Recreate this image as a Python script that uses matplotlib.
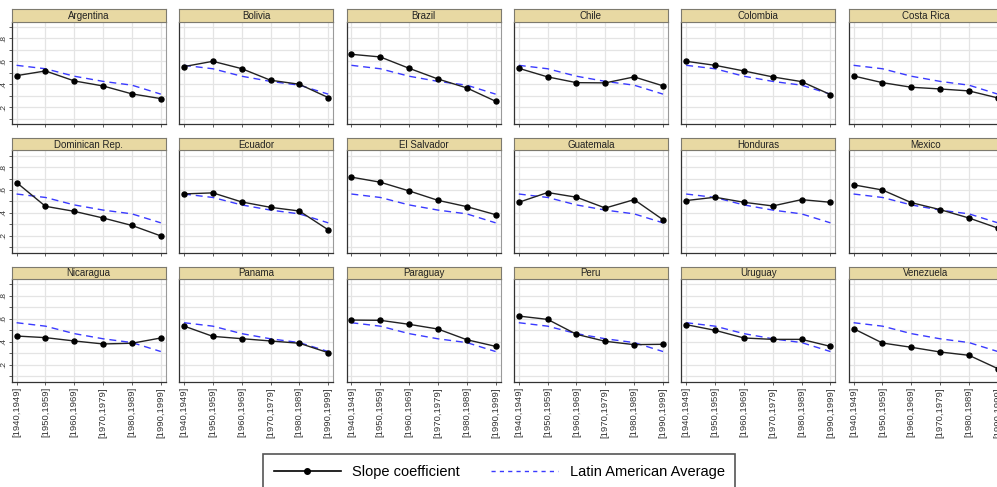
import matplotlib
matplotlib.use('Agg')
import matplotlib.pyplot as plt
from matplotlib.lines import Line2D
import numpy as np

plt.rcParams['font.family'] = ['Liberation Sans', 'DejaVu Sans']

periods = ['[1940,1949]', '[1950,1959]', '[1960,1969]', '[1970,1979]', '[1980,1989]', '[1990,1999]']
latin_avg = [0.565, 0.535, 0.470, 0.425, 0.392, 0.314]

argentina = [0.475, 0.516, 0.429, 0.385, 0.316, 0.275]
bolivia = [0.554, 0.600, 0.536, 0.435, 0.400, 0.284]
brazil = [0.661, 0.638, 0.539, 0.446, 0.368, 0.252]
chile = [0.539, 0.464, 0.414, 0.412, 0.464, 0.386]
colombia = [0.600, 0.565, 0.516, 0.464, 0.423, 0.310]
costa_rica = [0.472, 0.414, 0.374, 0.359, 0.342, 0.281]
dominican_rep = [0.665, 0.458, 0.414, 0.356, 0.291, 0.200]
ecuador = [0.566, 0.575, 0.496, 0.449, 0.417, 0.253]
el_salvador = [0.712, 0.668, 0.592, 0.510, 0.455, 0.385]
guatemala = [0.493, 0.578, 0.537, 0.443, 0.516, 0.341]
honduras = [0.508, 0.537, 0.493, 0.461, 0.516, 0.493]
mexico = [0.645, 0.600, 0.490, 0.429, 0.356, 0.268]
nicaragua = [0.449, 0.435, 0.406, 0.380, 0.386, 0.432]
panama = [0.536, 0.446, 0.426, 0.406, 0.386, 0.304]
paraguay = [0.588, 0.586, 0.551, 0.510, 0.417, 0.359]
peru = [0.623, 0.594, 0.464, 0.403, 0.374, 0.377]
uruguay = [0.548, 0.499, 0.432, 0.420, 0.420, 0.359]
venezuela = [0.513, 0.388, 0.351, 0.310, 0.281, 0.165]

countries = ['Argentina', 'Bolivia', 'Brazil', 'Chile', 'Colombia', 'Costa Rica',
             'Dominican Rep.', 'Ecuador', 'El Salvador', 'Guatemala', 'Honduras', 'Mexico',
             'Nicaragua', 'Panama', 'Paraguay', 'Peru', 'Uruguay', 'Venezuela']
series = [argentina, bolivia, brazil, chile, colombia, costa_rica,
          dominican_rep, ecuador, el_salvador, guatemala, honduras, mexico,
          nicaragua, panama, paraguay, peru, uruguay, venezuela]

W, H = 997, 487
fig = plt.figure(figsize=(W / 100, H / 100), dpi=100)

avg_color = '#3a3aff'
x = np.arange(len(periods))

for i, (name, vals) in enumerate(zip(countries, series)):
    r, c = divmod(i, 6)
    left = 11.7 + 167.4 * c
    top = 21.7 + 128.7 * r
    w, h = 154, 102.5
    ax = fig.add_axes([left / W, 1 - (top + h) / H, w / W, h / H])
    ax.plot(x, latin_avg, color=avg_color, lw=1.0, dashes=(5, 3.5), zorder=3)
    ax.plot(x, vals, color='#222222', lw=1.0, marker='o', ms=3.6,
            mfc='black', mec='black', zorder=4)
    ax.set_xlim(-0.17, 5.17)
    ax.set_ylim(0.052, 0.945)
    ax.set_xticks(x)
    ax.set_yticks([0.2, 0.4, 0.6, 0.8])
    ax.set_yticks([0.1, 0.3, 0.5, 0.7, 0.9], minor=True)
    ax.grid(True, which='both', axis='y', color='#e4e4e4', lw=0.9)
    ax.grid(True, which='major', axis='x', color='#e4e4e4', lw=0.9)
    ax.set_axisbelow(True)
    for s in ['top', 'right']:
        ax.spines[s].set_color('#9a9a9a')
        ax.spines[s].set_linewidth(0.8)
    for s in ['left', 'bottom']:
        ax.spines[s].set_color('#333333')
        ax.spines[s].set_linewidth(0.9)
    ax.tick_params(axis='both', which='both', length=2, width=0.6, color='#444444')
    if c == 0:
        ax.set_yticklabels(['.2', '.4', '.6', '.8'], rotation=90, va='center',
                           fontsize=6, color='#333333')
        ax.tick_params(axis='y', pad=1)
    else:
        ax.tick_params(axis='y', which='both', left=False, labelleft=False)
    if r == 2:
        ax.set_xticklabels(periods, rotation=90, fontsize=6.8, color='#333333')
        ax.tick_params(axis='x', pad=2)
    else:
        ax.tick_params(axis='x', labelbottom=False)

    sax = fig.add_axes([left / W, 1 - top / H, w / W, 12.6 / H])
    sax.set_facecolor('#e8d9a3')
    sax.set_xticks([])
    sax.set_yticks([])
    for s in sax.spines.values():
        s.set_color('#7d7a6e')
        s.set_linewidth(0.8)
    sax.text(0.5, 0.45, name, ha='center', va='center', fontsize=7,
             color='#222222', transform=sax.transAxes)

handles = [
    Line2D([], [], color='black', lw=1.2, marker='o', ms=4, mfc='black', mec='black'),
    Line2D([], [], color=avg_color, lw=1.0, dashes=(3, 3)),
]
leg = fig.legend(handles, ['Slope coefficient', 'Latin American Average'],
                 loc='upper left', bbox_to_anchor=(262.7 / W, 1 - 454.3 / H),
                 ncol=2, fontsize=10.5, handlelength=4.6, handletextpad=0.8,
                 columnspacing=2.1, borderpad=0.75, borderaxespad=0,
                 frameon=True, fancybox=False, framealpha=1)
leg.get_frame().set_edgecolor('#555555')
leg.get_frame().set_linewidth(1.2)

fig.savefig('out.png', dpi=100)
